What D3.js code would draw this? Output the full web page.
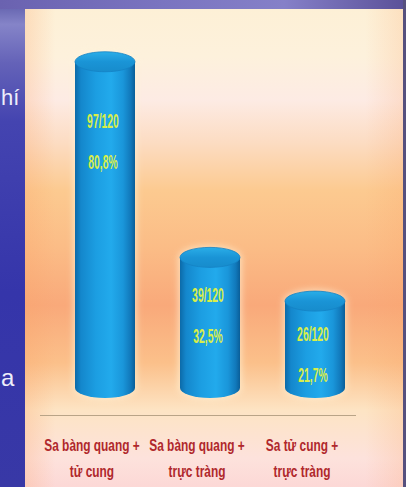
<!DOCTYPE html>
<html>
<head>
<meta charset="utf-8">
<script src="https://cdn.jsdelivr.net/npm/d3@7"></script>
<style>
html,body{margin:0;padding:0;background:#3a3aa8;overflow:hidden;}
svg{display:block;}
</style>
</head>
<body>
<svg id="chart" width="406" height="487"></svg>
<script>
// ---- data ----
const categories = [
  ["Sa bàng quang +", "tử cung"],
  ["Sa bàng quang +", "trực tràng"],
  ["Sa tử cung +", "trực tràng"]
];
const counts = [97, 39, 26];
const totals = [120, 120, 120];
const percents = [80.8, 32.5, 21.7];
const percentLabels = ["80,8%", "32,5%", "21,7%"];
const sideTexts = ["hí", "a"];

// ---- layout ----
const W = 406, H = 487;
const svg = d3.select("#chart");
const defs = svg.append("defs");

function linGrad(id, x1, y1, x2, y2, stops) {
  const g = defs.append("linearGradient").attr("id", id)
    .attr("x1", x1).attr("y1", y1).attr("x2", x2).attr("y2", y2);
  stops.forEach(s => g.append("stop").attr("offset", s[0]).attr("stop-color", s[1]));
}

// slide background pieces
linGrad("leftStrip", 0, 0, 0, 1, [[0, "#5b5aa8"], [0.05, "#8584c8"], [0.13, "#6462b8"], [0.25, "#4444b0"], [0.6, "#3535aa"], [1, "#3838a6"]]);
linGrad("topStrip", 0, 0, 1, 0, [[0, "#6a62b0"], [0.4, "#7a74c0"], [0.7, "#8580c8"], [1, "#5a5098"]]);
linGrad("panel", 0, 0, 0, 1, [
  [0, "#fdf0d6"], [0.1, "#fdf1dc"], [0.19, "#fdebe4"], [0.28, "#fcdcc2"],
  [0.38, "#fcca90"], [0.5, "#fbbc86"], [0.62, "#f9a97a"], [0.74, "#fbc08a"],
  [0.84, "#fde4c4"], [0.94, "#fde2dc"], [1, "#fcd8d6"]
]);
linGrad("panelSide", 0, 0, 1, 0, [[0, "rgba(250,160,100,0.25)"], [0.08, "rgba(250,160,100,0)"], [0.9, "rgba(250,160,100,0)"], [1, "rgba(250,160,100,0.2)"]]);
linGrad("cylBody", 0, 0, 1, 0, [
  [0, "#0c6aa8"], [0.1, "#1487cc"], [0.35, "#1c9ee2"], [0.6, "#22aaec"],
  [0.8, "#1a96da"], [0.93, "#1178ba"], [1, "#0a5e98"]
]);
linGrad("cylTop", 0, 0, 0, 1, [[0, "#2aaee8"], [0.5, "#1a94d6"], [1, "#178ccc"]]);

svg.append("rect").attr("x", 0).attr("y", 0).attr("width", W).attr("height", H).attr("fill", "url(#leftStrip)");
svg.append("rect").attr("x", 0).attr("y", 0).attr("width", W).attr("height", 9).attr("fill", "url(#topStrip)");
svg.append("rect").attr("x", 403).attr("y", 0).attr("width", 3).attr("height", H).attr("fill", "#56507e");
svg.append("rect").attr("x", 25).attr("y", 9).attr("width", 378).attr("height", H - 9).attr("fill", "url(#panel)");
svg.append("rect").attr("x", 25).attr("y", 9).attr("width", 378).attr("height", H - 9).attr("fill", "url(#panelSide)");

// fragments of slide text on the left
const sideY = [105, 386];
svg.selectAll("text.side").data(sideTexts).join("text")
  .attr("class", "side")
  .attr("x", 1)
  .attr("y", (d, i) => sideY[i])
  .attr("text-anchor", "start")
  .attr("font-family", "Liberation Sans, Arial, sans-serif")
  .attr("font-size", (d, i) => i === 0 ? 22 : 24)
  .attr("fill", "#eeeefa")
  .text(d => d);

// scales
const x = d3.scalePoint().domain(d3.range(categories.length)).range([52.5, 367.5]).padding(0.5);
const y = d3.scaleLinear().domain([0, 100]).range([389, -16]);
const rx = 30, ry = 10;
const baseC = y(0) - 1;

// baseline
svg.append("line").attr("x1", 40).attr("x2", 356).attr("y1", 415.5).attr("y2", 415.5)
  .attr("stroke", "#b9a487").attr("stroke-width", 1.2);

// soft glow behind bars
const glow = defs.append("filter").attr("id", "glow").attr("x", "-30%").attr("y", "-10%").attr("width", "160%").attr("height", "120%");
glow.append("feGaussianBlur").attr("stdDeviation", 3);

const bars = svg.selectAll("g.bar").data(percents).join("g").attr("class", "bar");

bars.append("path")
  .attr("filter", "url(#glow)")
  .attr("fill", "#fff4d8").attr("opacity", 0.6)
  .attr("d", (d, i) => {
    const cx = x(i), t = y(d);
    return `M${cx - rx - 2},${t} L${cx - rx - 2},${baseC} A${rx + 2},${ry + 2} 0 0 0 ${cx + rx + 2},${baseC} L${cx + rx + 2},${t} A${rx + 2},${ry + 2} 0 0 0 ${cx - rx - 2},${t} Z`;
  });

bars.append("path")
  .attr("fill", "url(#cylBody)")
  .attr("d", (d, i) => {
    const cx = x(i), t = y(d);
    return `M${cx - rx},${t} L${cx - rx},${baseC} A${rx},${ry} 0 0 0 ${cx + rx},${baseC} L${cx + rx},${t} Z`;
  });

bars.append("ellipse")
  .attr("cx", (d, i) => x(i)).attr("cy", d => y(d))
  .attr("rx", rx).attr("ry", ry)
  .attr("fill", "url(#cylTop)")
  .attr("stroke", "#1482c4").attr("stroke-width", 0.8);

// inside labels
function firstBase(d) {
  const t = y(d);
  return t + 30 + 0.112 * (baseC - t);
}
const inFont = "Liberation Sans Narrow, Arial Narrow, sans-serif";
bars.append("text")
  .attr("transform", (d, i) => `translate(${x(i) - 2},${firstBase(d)}) scale(0.52,1)`)
  .attr("text-anchor", "middle")
  .attr("font-family", inFont).attr("font-weight", "bold").attr("font-size", 20)
  .attr("fill", "#d8ee4a")
  .text((d, i) => `${counts[i]}/${totals[i]}`);
bars.append("text")
  .attr("transform", (d, i) => `translate(${x(i) - 2},${firstBase(d) + 41}) scale(0.52,1)`)
  .attr("text-anchor", "middle")
  .attr("font-family", inFont).attr("font-weight", "bold").attr("font-size", 20)
  .attr("fill", "#d8ee4a")
  .text((d, i) => percentLabels[i]);

// category labels
const cat = svg.selectAll("g.cat").data(categories).join("g").attr("class", "cat")
  .attr("transform", (d, i) => `translate(${x(i) - 13},0)`);
cat.selectAll("text").data(d => d).join("text")
  .attr("transform", (d, j) => `translate(0,${j === 0 ? 451 : 477}) scale(0.7,1)`)
  .attr("text-anchor", "middle")
  .attr("font-family", inFont).attr("font-weight", "bold").attr("font-size", 17)
  .attr("fill", "#b0282c")
  .text(d => d);
</script>
</body>
</html>
